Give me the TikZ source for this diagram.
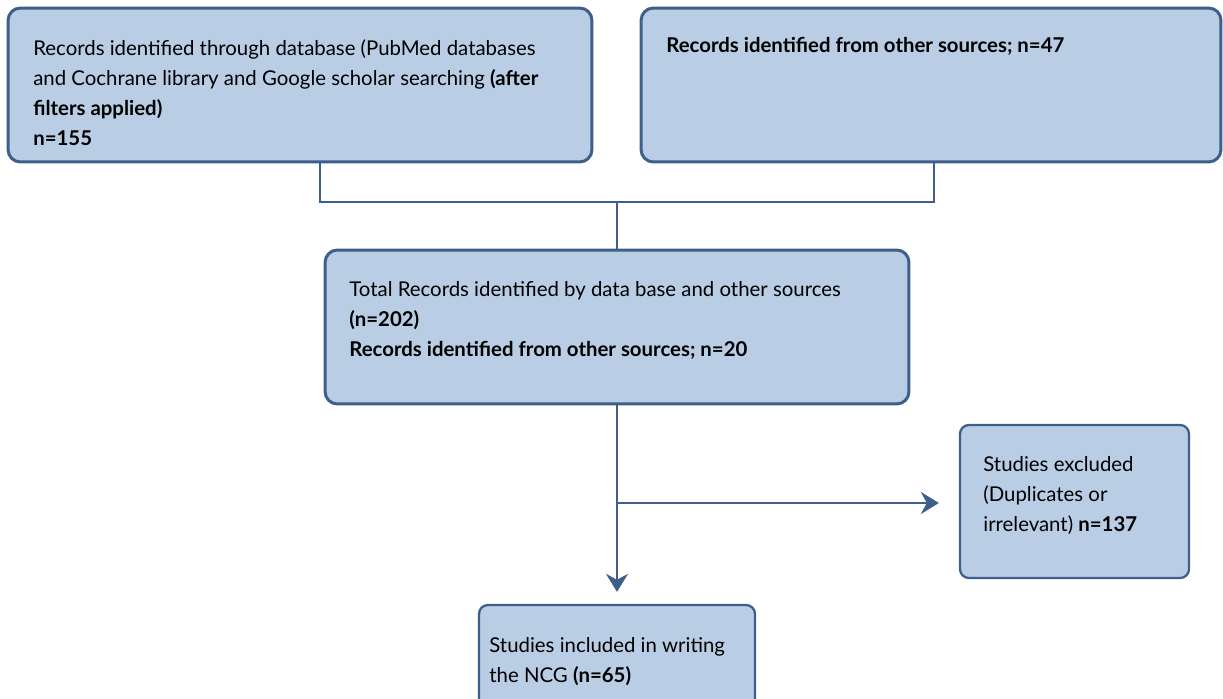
\documentclass[tikz,border=0pt]{standalone}
\usepackage{tikz}
\usetikzlibrary{shapes,arrows,arrows.meta,calc}
\usepackage{fontspec}
\setmainfont{Lato}
\usepackage{xcolor}
\definecolor{boxfill}{RGB}{185,205,228}
\definecolor{boxline}{RGB}{62,95,138}

\begin{document}
\begin{tikzpicture}[
    x=0.02cm, y=-0.02cm,
    box/.style={rectangle, draw=boxline, fill=boxfill, line width=1.7pt, rounded corners=7pt, minimum height=3.08cm},
    txt/.style={anchor=north west, inner sep=0pt, align=left, font=\fontsize{11.6}{17.2}\selectfont},
    link/.style={draw=boxline, line width=1.1pt},
    arrow/.style={link, -{Stealth[length=0.36cm, width=0.44cm]}}
]
\useasboundingbox (0,0) rectangle (1223,699);

% Sources
\node[box, minimum width=11.68cm] (db) at (300,85) {};
\node[txt] (dbtxt) at (33,39) {Records identified through database (PubMed databases\\and Cochrane library and Google scholar searching \textbf{(after}\\\textbf{filters applied)}\\\textbf{n=155}};

\node[box, minimum width=11.6cm] (other) at (931,85) {};
\node[txt] (othertxt) at (666,37) {\textbf{Records identified from other sources; n=47}};

% Total
\node[box, minimum width=11.68cm] (total) at (617,327) {};
\node[txt] (totaltxt) at (349,281) {Total Records identified by data base and other sources\\\textbf{(n=202)}\\\textbf{Records identified from other sources; n=20}};

% Excluded
\node[box, line width=1.3pt, rounded corners=5pt, minimum width=4.58cm, minimum height=3.06cm] (excl) at (1074.5,501.5) {};
\node[txt] (excltxt) at (983,456) {Studies excluded\\(Duplicates or\\irrelevant) \textbf{n=137}};

% Included
\node[box, line width=1.3pt, rounded corners=5pt, minimum width=5.52cm] (incl) at (617,682) {};
\node[txt] (incltxt) at (489,637) {Studies included in writing\\the NCG \textbf{(n=65)}};

% Connectors
\coordinate (left) at (320,202);
\coordinate (right) at (934,202);
\coordinate (mid) at (617,202);
\coordinate (branch) at (617,503);

\draw[link] (db.south -| left) -- (left) -- (right) -- (other.south -| right);
\draw[link] (mid) -- (total.north);
\draw[arrow, shorten >=0.24cm] (total.south) -- (incl.north);
\draw[arrow, shorten >=0.4cm] (branch) -- (excl.west |- branch);

\end{tikzpicture}
\end{document}
